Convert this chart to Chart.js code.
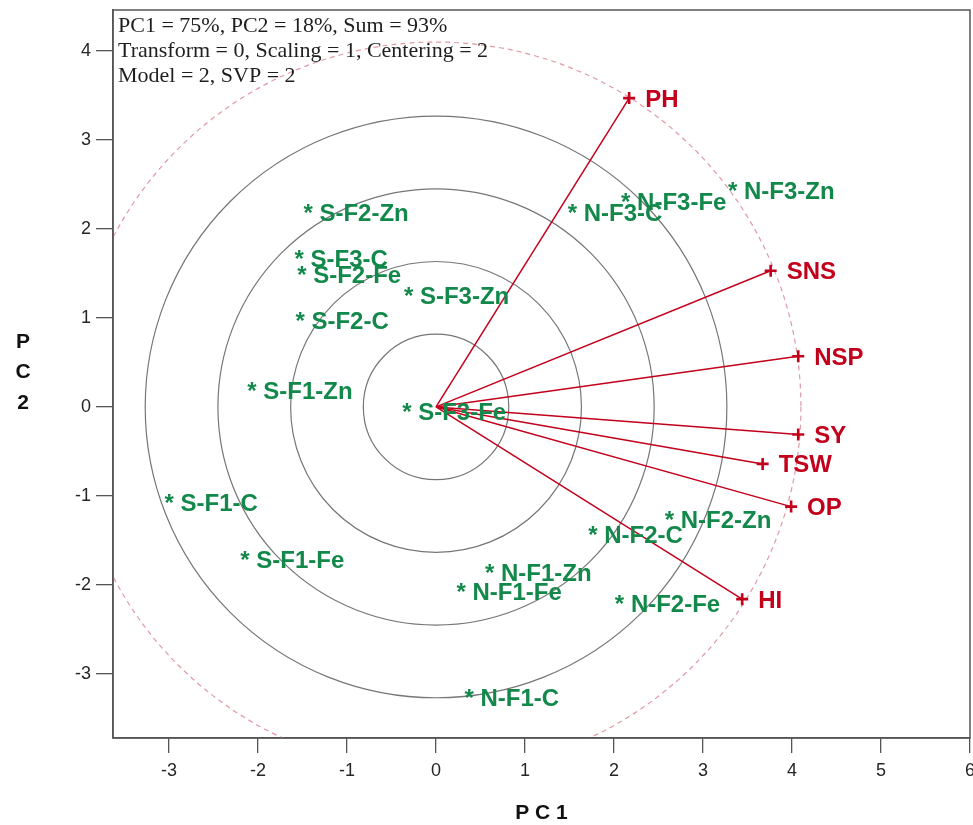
<!DOCTYPE html>
<html>
<head>
<meta charset="utf-8">
<script src="https://cdn.jsdelivr.net/npm/chart.js@4.4.1/dist/chart.umd.min.js"></script>
<style>
    html, body { margin: 0; padding: 0; background: #fff; }
</style>
</head>
<body>
<canvas id="biplotChart" width="973" height="825"></canvas>
<script>

// genotype scores (PC1, PC2)
var genotypeNames = ["S-F3-Fe", "S-F1-Zn", "S-F2-C", "S-F3-Zn", "S-F2-Fe", "S-F3-C", "S-F2-Zn",
    "S-F1-C", "S-F1-Fe", "N-F1-Fe", "N-F1-Zn", "N-F2-C", "N-F2-Zn", "N-F2-Fe", "N-F1-C",
    "N-F3-C", "N-F3-Fe", "N-F3-Zn"];
var genotypePC1 = [-0.33, -2.07, -1.53, -0.31, -1.51, -1.54, -1.44,
    -3.00, -2.15, 0.28, 0.60, 1.76, 2.62, 2.06, 0.37,
    1.53, 2.13, 3.33];
var genotypePC2 = [0.01, 0.24, 1.03, 1.31, 1.54, 1.72, 2.24,
    -1.02, -1.66, -2.02, -1.80, -1.38, -1.21, -2.15, -3.21,
    2.24, 2.37, 2.49];

// trait vectors (PC1, PC2)
var traitNames = ["PH", "SNS", "NSP", "SY", "TSW", "OP", "HI"];
var traitPC1 = [2.17, 3.76, 4.07, 4.07, 3.67, 3.99, 3.44];
var traitPC2 = [3.47, 1.53, 0.57, -0.31, -0.64, -1.12, -2.16];

var xTicks = [-3, -2, -1, 0, 1, 2, 3, 4, 5, 6];
var yTicks = [-3, -2, -1, 0, 1, 2, 3, 4];

var ringRadii = [0.817, 1.634, 2.451, 3.268];
var outerRadius = 4.1;

var infoLines = ["PC1 = 75%, PC2 = 18%, Sum = 93%",
    "Transform = 0, Scaling = 1, Centering = 2",
    "Model = 2, SVP = 2"];

var RED = "#c3001c";
var GREEN = "#12894a";
var AXIS = "#555555";

var datasets = [];

traitNames.forEach(function (name, i) {
    datasets.push({
        label: name,
        data: [{x: 0, y: 0}, {x: traitPC1[i], y: traitPC2[i]}],
        showLine: true,
        borderColor: RED,
        borderWidth: 1.5,
        pointStyle: "cross",
        pointRadius: [0, 6],
        pointBorderWidth: 2.6,
        pointBorderColor: RED
    });
});

datasets.push({
    label: "genotypes",
    data: genotypeNames.map(function (n, i) {
        return {x: genotypePC1[i], y: genotypePC2[i]};
    }),
    pointRadius: 0,
    showLine: false
});

// rings, frame, labels
var biplotPlugin = {
    id: "biplotPlugin",
    beforeDatasetsDraw: function (chart) {
        var ctx = chart.ctx;
        var xs = chart.scales.x, ys = chart.scales.y;
        var area = chart.chartArea;
        var cx = xs.getPixelForValue(0), cy = ys.getPixelForValue(0);
        var ux = xs.getPixelForValue(1) - cx, uy = cy - ys.getPixelForValue(1);
        ctx.save();
        ctx.beginPath();
        ctx.rect(area.left, area.top, area.right - area.left, area.bottom - area.top);
        ctx.clip();
        ctx.strokeStyle = "#767676";
        ctx.lineWidth = 1.2;
        ringRadii.forEach(function (r) {
            ctx.beginPath();
            ctx.ellipse(cx, cy, r * ux, r * uy, 0, 0, Math.PI * 2);
            ctx.stroke();
        });
        ctx.strokeStyle = "#e09aa4";
        ctx.setLineDash([5, 4]);
        ctx.beginPath();
        ctx.ellipse(cx, cy, outerRadius * ux, outerRadius * uy, 0, 0, Math.PI * 2);
        ctx.stroke();
        ctx.restore();
    },
    afterDatasetsDraw: function (chart) {
        var ctx = chart.ctx;
        var xs = chart.scales.x, ys = chart.scales.y;
        var area = chart.chartArea;
        ctx.save();

        ctx.font = "bold 24px 'Liberation Sans', Arial, sans-serif";
        ctx.textAlign = "left";
        ctx.textBaseline = "alphabetic";
        ctx.fillStyle = GREEN;
        genotypeNames.forEach(function (name, i) {
            var px = xs.getPixelForValue(genotypePC1[i]);
            var py = ys.getPixelForValue(genotypePC2[i]);
            ctx.fillText("* " + name, px - 4.5, py + 13.5);
        });

        ctx.fillStyle = RED;
        traitNames.forEach(function (name, i) {
            var px = xs.getPixelForValue(traitPC1[i]);
            var py = ys.getPixelForValue(traitPC2[i]);
            ctx.fillText(name, px + 16, py + 8.5);
        });

        // info text
        ctx.fillStyle = "#1e1e1e";
        ctx.font = "22px 'Liberation Serif', 'Times New Roman', serif";
        infoLines.forEach(function (t, i) {
            ctx.fillText(t, area.left + 5, area.top + 22 + i * 25);
        });

        // frame
        ctx.strokeStyle = AXIS;
        ctx.lineWidth = 1.5;
        ctx.strokeRect(area.left, area.top, area.right - area.left, area.bottom - area.top);

        // axis titles
        ctx.fillStyle = "#111";
        ctx.font = "bold 21px 'Liberation Sans', Arial, sans-serif";
        ctx.textAlign = "center";
        ctx.textBaseline = "middle";
        ctx.fillText("P C 1", (area.left + area.right) / 2, 813);
        ["P", "C", "2"].forEach(function (ch, i) {
            ctx.fillText(ch, 23, 342 + i * 30.5);
        });
        ctx.restore();
    }
};

var ctx = document.getElementById("biplotChart").getContext("2d");
var biplotChart = new Chart(ctx, {
    type: "scatter",
    data: {datasets: datasets},
    options: {
        responsive: false,
        animation: false,
        layout: {autoPadding: false, padding: {top: 10, right: 3, left: 0, bottom: 0}},
        plugins: {
            legend: {display: false},
            tooltip: {enabled: false}
        },
        scales: {
            x: {
                type: "linear",
                min: -3.63,
                max: 6.0,
                afterFit: function (scale) {
                    scale.height = 87;
                    scale.paddingLeft = 0;
                    scale.paddingRight = 0;
                },
                afterBuildTicks: function (scale) {
                    scale.ticks = xTicks.map(function (v) { return {value: v}; });
                },
                ticks: {
                    color: "#262626",
                    font: {family: "'Liberation Sans', Arial, sans-serif", size: 18},
                    padding: 7,
                    maxRotation: 0
                },
                grid: {display: true, drawOnChartArea: false, drawTicks: true, tickLength: 15, color: AXIS, lineWidth: 1.3},
                border: {display: true, color: AXIS, width: 1.5}
            },
            y: {
                type: "linear",
                min: -3.72,
                max: 4.46,
                afterFit: function (scale) {
                    scale.width = 113;
                    scale.paddingTop = 0;
                    scale.paddingBottom = 0;
                },
                afterBuildTicks: function (scale) {
                    scale.ticks = yTicks.map(function (v) { return {value: v}; });
                },
                ticks: {
                    color: "#262626",
                    font: {family: "'Liberation Sans', Arial, sans-serif", size: 18},
                    padding: 5
                },
                grid: {display: true, drawOnChartArea: false, drawTicks: true, tickLength: 17, color: AXIS, lineWidth: 1.3},
                border: {display: true, color: AXIS, width: 1.5}
            }
        }
    },
    plugins: [biplotPlugin]
});
</script>
</body>
</html>
